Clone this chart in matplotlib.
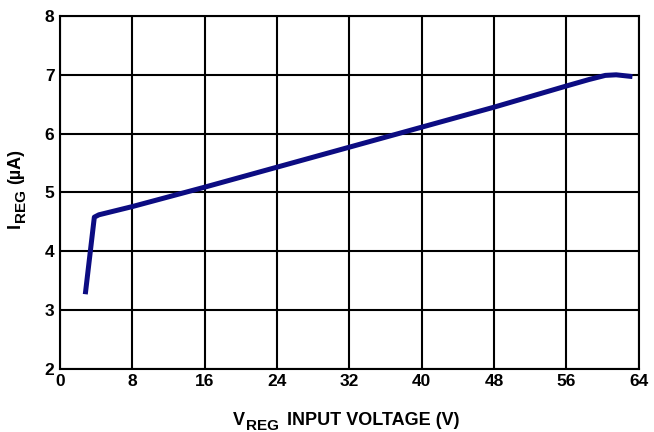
import matplotlib
matplotlib.use("Agg")
import matplotlib.pyplot as plt

# Regulator current vs input voltage
v_reg = [2.8, 3.8, 4.3, 8, 16, 24, 32, 40, 48, 56, 58.5, 60.3, 61.5, 63.3]
i_reg = [3.27, 4.58, 4.62, 4.76, 5.09, 5.43, 5.77, 6.11, 6.45, 6.81, 6.92, 6.99, 7.0, 6.97]

x_ticks = [0, 8, 16, 24, 32, 40, 48, 56, 64]
y_ticks = [2, 3, 4, 5, 6, 7, 8]

plt.rcParams['font.family'] = ['Liberation Sans', 'DejaVu Sans']
plt.rcParams['font.weight'] = 'bold'

fig = plt.figure(figsize=(6.54, 4.32), dpi=100)
ax = fig.add_axes([0.0917, 0.146, 0.885, 0.817])

ax.plot(v_reg, i_reg, color='#0c0c82', linewidth=3.6, solid_capstyle='butt', zorder=3)

ax.set_xlim(0, 64)
ax.set_ylim(2, 8)
ax.set_xticks(x_ticks)
ax.set_yticks(y_ticks)
ax.grid(True, color='black', linewidth=1.5)
for s in ax.spines.values():
    s.set_linewidth(1.5)
ax.tick_params(length=0, labelsize=12.5, pad=4)
for lbl in ax.get_xticklabels() + ax.get_yticklabels():
    lbl.set_fontweight('bold')

# axis labels built from pieces so the subscript can be sized freely
big, small = 13, 11

v = fig.text(0.356, 1 - 425 / 432, 'V', fontsize=big, fontweight='bold',
             ha='left', va='baseline')
reg_x = ax.annotate('REG', xy=(1, 0), xycoords=v, xytext=(0.5, -3),
                    textcoords='offset points', fontsize=small,
                    fontweight='bold', ha='left', va='bottom')
ax.annotate('INPUT VOLTAGE (V)', xy=(1, 0), xycoords=(reg_x, v),
            xytext=(6, 0), textcoords='offset points', fontsize=big,
            fontweight='bold', ha='left', va='bottom')

i = fig.text(24 / 654, 1 - 228 / 432, 'I', fontsize=big, fontweight='bold',
             rotation=90, ha='right', va='bottom')
reg_y = ax.annotate('REG', xy=(1, 1), xycoords=i, xytext=(3, 0.5),
                    textcoords='offset points', fontsize=small,
                    fontweight='bold', rotation=90, ha='right', va='bottom')
ax.annotate('(µA)', xy=(1, 1), xycoords=(i, reg_y), xytext=(0, 4),
            textcoords='offset points', fontsize=big, fontweight='bold',
            rotation=90, ha='right', va='bottom')

fig.savefig('out.png', dpi=100)
